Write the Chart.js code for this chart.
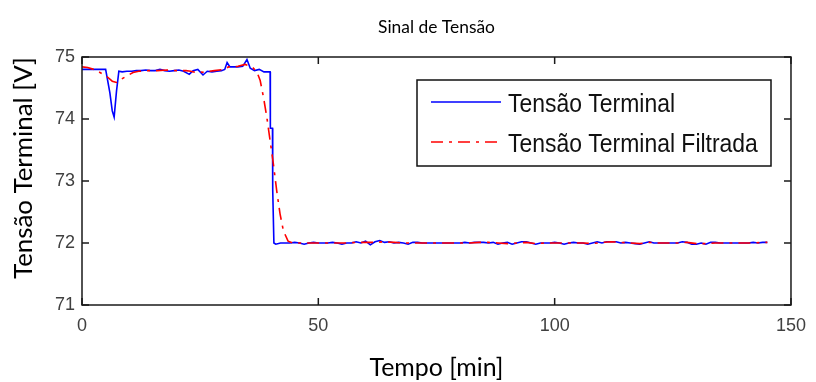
<!DOCTYPE html>
<html><head><meta charset="utf-8">
<script src="https://cdn.jsdelivr.net/npm/chart.js@4.4.0/dist/chart.umd.min.js"></script>
<style>html,body{margin:0;padding:0;background:#fff;}canvas{display:block}</style>
</head><body>
<canvas id="c" width="816" height="382"></canvas>
<script>
// ---- data ----
const chartTitle = 'Sinal de Tensão';
const xTitle = 'Tempo [min]';
const yTitle = 'Tensão Terminal [V]';
const seriesLabels = ['Tensão Terminal', 'Tensão Terminal Filtrada'];
const xTicks = [0, 50, 100, 150];
const yTicks = [71, 72, 73, 74, 75];

const blueTime = [
  0, 1, 2, 3, 4, 5, 5.9, 6.4, 6.8, 7.3, 7.8,
  8.5, 9.5, 10.5, 11.5, 12.5, 13.5, 14.5, 15.5, 16.5, 17.5, 18.5, 19.5, 20.5, 21.5,
  22.7, 23.5, 24.5, 25.6, 26.5, 27.5, 28.5, 29.5,
  30.2, 30.7, 31.3, 32, 33, 34,
  34.9, 35.6, 36.5, 37.5, 38.5,
  39.8, 39.85, 40.3, 40.35, 40.6, 41,
  42, 43, 44, 45, 46, 47, 48, 49, 50, 51, 52, 53, 54, 55, 56, 57, 58, 59,
  60, 61, 62, 63, 64, 65, 66, 67, 68, 69, 70, 71, 72, 73, 74, 75, 76, 77, 78, 79,
  80, 81, 82, 83, 84, 85, 86, 87, 88, 89, 90, 91, 92, 93, 94, 95, 96, 97, 98, 99,
  100, 101, 102, 103, 104, 105, 106, 107, 108, 109, 110, 111, 112, 113, 114, 115, 116, 117, 118, 119,
  120, 121, 122, 123, 124, 125, 126, 127, 128, 129, 130, 131, 132, 133, 134, 135, 136, 137, 138, 139,
  140, 141, 142, 143, 144, 145
];
const blueValues = [
  74.80, 74.80, 74.80, 74.80, 74.80, 74.80, 74.42, 74.13, 74.03, 74.45, 74.77,
  74.76, 74.77, 74.77, 74.78, 74.78, 74.79, 74.78, 74.78, 74.80, 74.78, 74.77, 74.78, 74.79, 74.77,
  74.72, 74.78, 74.80, 74.71, 74.77, 74.76, 74.77, 74.78,
  74.80, 74.91, 74.84, 74.84, 74.84, 74.85,
  74.96, 74.82, 74.78, 74.80, 74.76,
  74.76, 73.85, 73.85, 72.86, 72.00, 71.98,
  72.00, 72.00, 72.00, 72.01, 72.00, 71.98, 72.00, 72.01, 72.00, 72.00, 72.00, 72.01, 72.00, 71.98, 72.00, 72.00, 72.02, 72.00,
  72.03, 71.97, 72.02, 72.04, 72.01, 72.02, 72.00, 72.01, 72.00, 71.98, 72.01, 72.01, 72.00, 72.00, 72.00, 72.00, 72.00, 72.00, 72.00, 72.00,
  72.00, 72.01, 72.00, 72.01, 72.01, 72.01, 72.00, 72.01, 71.98, 72.00, 72.01, 71.98, 72.00, 72.02, 72.02, 72.00, 71.98, 72.00, 72.00, 72.00,
  72.01, 72.00, 71.98, 72.00, 72.01, 72.00, 72.00, 71.98, 72.00, 72.02, 72.00, 72.02, 72.02, 72.02, 72.00, 72.01, 72.00, 71.99, 71.98, 72.00,
  72.02, 72.00, 72.00, 72.00, 72.00, 72.00, 72.00, 72.02, 72.01, 71.98, 71.98, 72.00, 71.98, 72.01, 72.01, 72.00, 72.00, 72.00, 72.00, 72.00,
  72.00, 72.00, 72.01, 72.00, 72.01, 72.01
];

const redTime = [
  0, 1.2, 2.5, 3.8, 5.2, 6.4, 7.3, 8.7, 10.8, 12,
  14, 16, 18, 20, 22, 23, 24, 25, 26, 27, 28,
  30, 31, 32, 33, 34.5,
  36, 37, 37.7, 38.4, 39.1, 39.8, 40.5, 41.2, 41.9, 42.6, 43.6, 44.6,
  46, 48, 50, 52, 54, 56, 58, 60, 62, 64, 66, 68, 70, 72, 74, 76, 78, 80, 82, 84, 86, 88, 90, 92, 94,
  96, 98, 100, 102, 104, 106, 108, 110, 112, 114, 116, 118, 120, 122, 124, 126, 128, 130, 132, 134, 136, 138, 140, 142, 144, 145
];
const redValues = [
  74.84, 74.83, 74.80, 74.75, 74.69, 74.61, 74.59, 74.66, 74.75, 74.77,
  74.78, 74.78, 74.79, 74.78, 74.78, 74.77, 74.75, 74.76, 74.75, 74.77, 74.78,
  74.80, 74.84, 74.84, 74.85, 74.88,
  74.84, 74.76, 74.62, 74.35, 74.03, 73.65, 73.27, 72.84, 72.47, 72.20, 72.03, 72.00,
  72.00, 72.00, 72.00, 72.00, 72.00, 72.00, 72.01, 72.01, 72.01, 72.02, 72.01, 72.00, 72.00, 72.00, 72.00, 72.00, 72.00, 72.00, 72.00, 72.01, 72.01, 72.00, 71.99, 72.00, 72.01,
  71.99, 72.00, 72.00, 72.00, 72.00, 72.00, 71.99, 72.01, 72.02, 72.01, 72.00, 71.99, 72.01, 72.00, 72.00, 72.00, 72.01, 71.99, 71.99, 72.00, 72.00, 72.00, 72.00, 72.00, 72.01, 72.01
];

// ---- helpers ----
const toXY = (ts, vs) => ts.map((t, i) => ({ x: t, y: vs[i] }));
const mctx = document.createElement('canvas').getContext('2d');
function fitSize(text, family, target) {
  mctx.font = '100px ' + family;
  return 100 * target / mctx.measureText(text).width;
}
const titleFamily = 'Lato, "Open Sans", sans-serif';
const tickFamily = '"Liberation Sans", Arial, sans-serif';
const titleSize = fitSize(chartTitle, titleFamily, 117);
const xTitleSize = fitSize(xTitle, titleFamily, 134);
const yTitleSize = fitSize(yTitle, titleFamily, 222);

const frameAndLegend = {
  id: 'frameAndLegend',
  afterDatasetsDraw(chart) {
    const { ctx, chartArea: a, scales: { x, y } } = chart;
    ctx.save();
    ctx.strokeStyle = '#1a1a1a';
    ctx.lineWidth = 1.5;
    ctx.beginPath();
    x.ticks.forEach(t => {
      const px = x.getPixelForValue(t.value);
      ctx.moveTo(px, a.bottom); ctx.lineTo(px, a.bottom - 7);
      ctx.moveTo(px, a.top); ctx.lineTo(px, a.top + 7);
    });
    y.ticks.forEach(t => {
      const py = y.getPixelForValue(t.value);
      ctx.moveTo(a.left, py); ctx.lineTo(a.left + 7, py);
      ctx.moveTo(a.right, py); ctx.lineTo(a.right - 7, py);
    });
    ctx.stroke();
    ctx.strokeRect(a.left, a.top, a.right - a.left, a.bottom - a.top);

    // y axis title (placed like the reference, slightly above the axis centre)
    ctx.save();
    ctx.translate(24, (a.top + a.bottom) / 2 - 13);
    ctx.rotate(-Math.PI / 2);
    ctx.fillStyle = '#000';
    ctx.font = yTitleSize + 'px ' + titleFamily;
    ctx.textAlign = 'center';
    ctx.textBaseline = 'middle';
    ctx.fillText(yTitle, 0, 0);
    ctx.restore();

    // legend box
    const lx = a.left + 335, ly = a.top + 23, lw = 354, lh = 86;
    ctx.fillStyle = '#fff';
    ctx.fillRect(lx, ly, lw, lh);
    ctx.strokeStyle = '#111';
    ctx.lineWidth = 1.5;
    ctx.strokeRect(lx, ly, lw, lh);
    const rows = [ly + 22, ly + 62];
    chart.data.datasets.forEach((ds, i) => {
      ctx.beginPath();
      ctx.strokeStyle = ds.borderColor;
      ctx.lineWidth = 1.5;
      ctx.setLineDash(ds.borderDash || []);
      ctx.moveTo(lx + 14, rows[i]); ctx.lineTo(lx + 84, rows[i]);
      ctx.stroke();
      ctx.setLineDash([]);
      ctx.font = '25px ' + tickFamily;
      const w0 = ctx.measureText(seriesLabels[0]).width;
      const sx = 167 / w0;
      ctx.save();
      ctx.translate(lx + 91, rows[i] + 10);
      ctx.scale(sx, 1);
      ctx.fillStyle = '#111';
      ctx.textBaseline = 'alphabetic';
      ctx.textAlign = 'left';
      ctx.fillText(ds.label, 0, 0);
      ctx.restore();
    });
    ctx.restore();
  }
};

new Chart(document.getElementById('c'), {
  type: 'line',
  data: {
    datasets: [
      { label: seriesLabels[0], data: toXY(blueTime, blueValues), borderColor: '#0000ff',
        borderWidth: 1.6, pointRadius: 0, tension: 0, order: 1 },
      { label: seriesLabels[1], data: toXY(redTime, redValues), borderColor: '#ff0000',
        borderWidth: 1.6, borderDash: [12, 6, 3, 6], pointRadius: 0, tension: 0, order: 0 }
    ]
  },
  options: {
    responsive: false, animation: false, devicePixelRatio: 1,
    layout: { padding: { left: 0, right: 19, top: 0, bottom: 0 } },
    plugins: {
      legend: { display: false },
      tooltip: { enabled: false },
      title: { display: true, fullSize: false, text: chartTitle, color: '#000',
        font: { family: titleFamily, size: titleSize, weight: 'normal', lineHeight: 1 },
        padding: { top: 27 - titleSize / 2, bottom: 57 - 27 - titleSize / 2 } }
    },
    scales: {
      x: {
        type: 'linear', min: 0, max: 150,
        afterBuildTicks: s => { s.ticks = xTicks.map(v => ({ value: v })); },
        grid: { display: false, drawTicks: false }, border: { display: false },
        ticks: { font: { family: tickFamily, size: 18, lineHeight: 1.2 }, color: '#404040', padding: 10, maxRotation: 0 },
        title: { display: true, text: xTitle, color: '#000',
          font: { family: titleFamily, size: xTitleSize, lineHeight: 1 },
          padding: { top: 0, bottom: 14 - xTitleSize / 2 } },
        afterFit: s => { s.height = 77; }
      },
      y: {
        min: 71, max: 75,
        afterBuildTicks: s => { s.ticks = yTicks.map(v => ({ value: v })); },
        grid: { display: false, drawTicks: false }, border: { display: false },
        ticks: { font: { family: tickFamily, size: 18 }, color: '#404040', padding: 7 },
        title: { display: false },
        afterFit: s => { s.width = 82; }
      }
    }
  },
  plugins: [frameAndLegend]
});
</script>
</body></html>
